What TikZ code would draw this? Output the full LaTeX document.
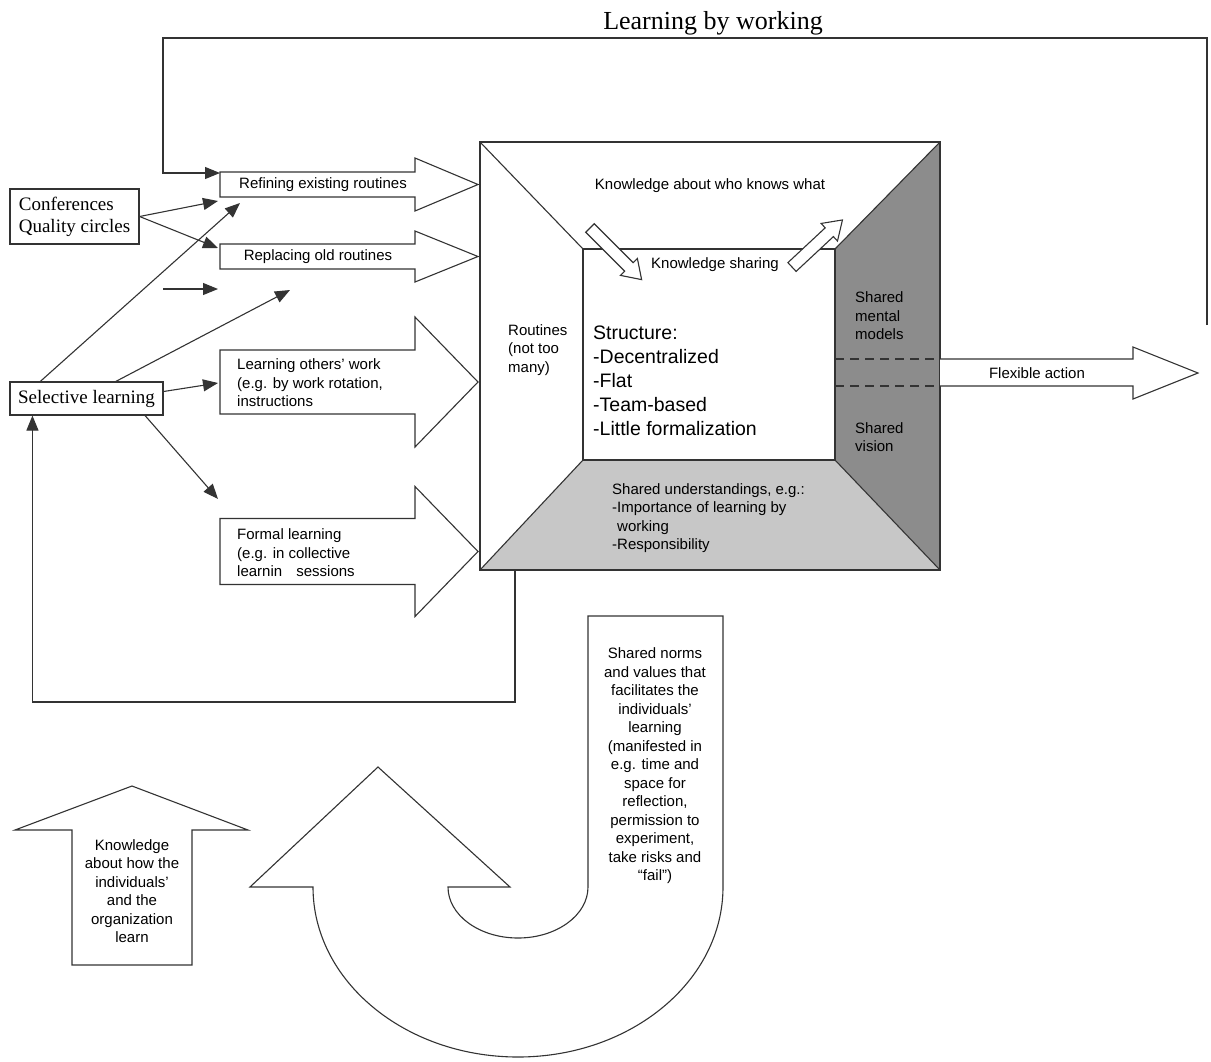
\documentclass[tikz,border=0pt]{standalone}
\usepackage{fontspec}
\setmainfont{Liberation Serif}
\setsansfont{Liberation Sans}
\usetikzlibrary{arrows.meta,calc}
\tikzset{
	ln/.style={draw=black!80, line width=1.1pt},
	flow/.style={ln, -{Triangle[length=15pt,width=12pt]}},
	barrow/.style={ln, fill=white, line join=miter},
	face/.style={ln, line join=miter},
	txt/.style={font=\sffamily\fontsize{15}{18.5}\selectfont, inner sep=0pt, align=left},
	txtc/.style={txt, align=center},
	big/.style={font=\sffamily\fontsize{19.5}{24}\selectfont, inner sep=0pt, align=left},
	ser/.style={font=\rmfamily\fontsize{19}{22}\selectfont},
	sbox/.style={ln, ser, align=left, inner sep=0pt},
	pics/hollow/.style={code={
		\draw[barrow] (0,-6) -- (#1-18,-6) -- (#1-18,-12) -- (#1,0) -- (#1-18,12) -- (#1-18,6) -- (0,6) -- cycle;}},
}
% x0, x1, tip, y centre, half shaft, half head
\newcommand{\blockarrow}[6]{%
	\draw[barrow] (#1,#4-#5) -- (#2,#4-#5) -- (#2,#4-#6) -- (#3,#4) -- (#2,#4+#6) -- (#2,#4+#5) -- (#1,#4+#5) -- cycle;}

\begin{document}
\begin{tikzpicture}[x=1pt, y=-1pt]
	\useasboundingbox (0,0) rectangle (1211,1061);
	\node[ser, font=\rmfamily\fontsize{26}{28}\selectfont] (title) at (713,23) {Learning by working};

	% left side
	\node[sbox, minimum width=129pt, minimum height=55pt] (conf) at (74.5,216.5) {Conferences\\Quality circles};
	\node[sbox, minimum width=153pt, minimum height=33pt] (sel) at (86.5,398.5) {Selective learning};

	\blockarrow{220}{415}{478}{184.5}{12.5}{26.5}
	\blockarrow{220}{415}{478}{256.5}{12.5}{25.5}
	\blockarrow{220}{415}{478}{382}{32}{65}
	\blockarrow{220}{415}{478}{551.5}{33}{65}
	\node[txt] (refine) at (323,185) {Refining existing routines};
	\node[txt] (replace) at (318,257) {Replacing old routines};
	\node[txt, anchor=west] (others) at (237,383) {Learning others’ work\\(e.g. by work rotation,\\instructions};
	\node[txt, anchor=west] (formal) at (237,553) {Formal learning\\(e.g. in collective\\learnin \hspace{10pt}sessions};

	% the box
	\coordinate (o1) at (480,142);
	\coordinate (o2) at (940,142);
	\coordinate (o3) at (940,570);
	\coordinate (o4) at (480,570);
	\coordinate (i1) at (583,249);
	\coordinate (i2) at (835,249);
	\coordinate (i3) at (835,460);
	\coordinate (i4) at (583,460);
	\fill[black!45] (i2) -- (o2) -- (o3) -- (i3) -- cycle;
	\fill[black!22] (i4) -- (i3) -- (o3) -- (o4) -- cycle;
	\draw[face] (o1) rectangle (o3);
	\draw[face] (i1) rectangle (i3);
	\draw[face] (o1) -- (i1) (o2) -- (i2) (o3) -- (i3) (o4) -- (i4);
	\node[txt] (who) at (710,186) {Knowledge about who knows what};
	\node[txt] (share) at (715,265) {Knowledge sharing};
	\node[txt, anchor=west] (rout) at (508,350) {Routines\\(not too\\many)};
	\node[big, anchor=west] (struct) at (593,381) {Structure:\\-Decentralized\\-Flat\\-Team-based\\-Little formalization};
	\node[txt, anchor=west] (smm) at (855,316) {Shared\\mental\\models};
	\node[txt, anchor=west] (sv) at (855,437) {Shared\\vision};
	\node[txt, anchor=west] (su) at (612,518) {Shared understandings, e.g.:\\-Importance of learning by\\\hspace*{5pt}working\\-Responsibility};
	\pic[rotate=-45] at (590,228) {hollow=73};
	\pic[rotate=43] at (792,267) {hollow=69};

	% flexible action
	\draw[ln, dash pattern=on 9pt off 6pt] (835,359) -- (940,359) (835,386) -- (940,386);
	\draw[barrow] (940,359) -- (1133,359) -- (1133,347) -- (1198,373) -- (1133,399) -- (1133,386) -- (940,386);
	\node[txt] (flex) at (1037,373) {Flexible action};

	% feedback loops
	\coordinate (loopa) at (1207,325);
	\coordinate (loopb) at (220,173);
	\draw[flow] (loopa) |- (163,38) |- (loopb);
	\draw[flow] ($(o4)+(35,0)$) -- ++(0,132) -| ($(sel.south west)+(23,0)$);

	% small arrows
	\coordinate (c1) at (218,201);
	\coordinate (c2) at (218,248);
	\coordinate (s1) at (240,203);
	\coordinate (s2) at (290,290);
	\coordinate (s3) at (218,383);
	\coordinate (s4) at (218,499);
	\coordinate (f1) at (163,289);
	\coordinate (f2) at (218,289);
	\draw[flow] (conf.east) -- (c1);
	\draw[flow] (conf.east) -- (c2);
	\draw[flow] ($(sel.north west)!0.2!(sel.north east)$) -- (s1);
	\draw[flow] ($(sel.north west)!0.69!(sel.north east)$) -- (s2);
	\draw[flow] ($(sel.east)+(0,-7)$) -- (s3);
	\draw[flow] ($(sel.south west)!0.88!(sel.south east)$) -- (s4);
	\draw[flow] (f1) -- (f2);

	% bottom arrows
	\draw[barrow] (588,616) -- (723,616) -- (723,887) arc[start angle=0, end angle=-180, x radius=205pt, y radius=170pt] -- (250,887) -- (378,767) -- (510,887) -- (448,887) arc[start angle=180, end angle=360, x radius=70pt, y radius=51pt] -- cycle;
	\node[txtc] (norms) at (655,766) {Shared norms\\and values that\\facilitates the\\individuals’\\learning\\(manifested in\\e.g. time and\\space for\\reflection,\\permission to\\experiment,\\take risks and\\“fail”)};
	\draw[barrow] (72,965) -- (72,830) -- (15,830) -- (132,786) -- (248,830) -- (192,830) -- (192,965) -- cycle;
	\node[txtc] (how) at (132,891) {Knowledge\\about how the\\individuals’\\and the\\organization\\learn};
\end{tikzpicture}
\end{document}
